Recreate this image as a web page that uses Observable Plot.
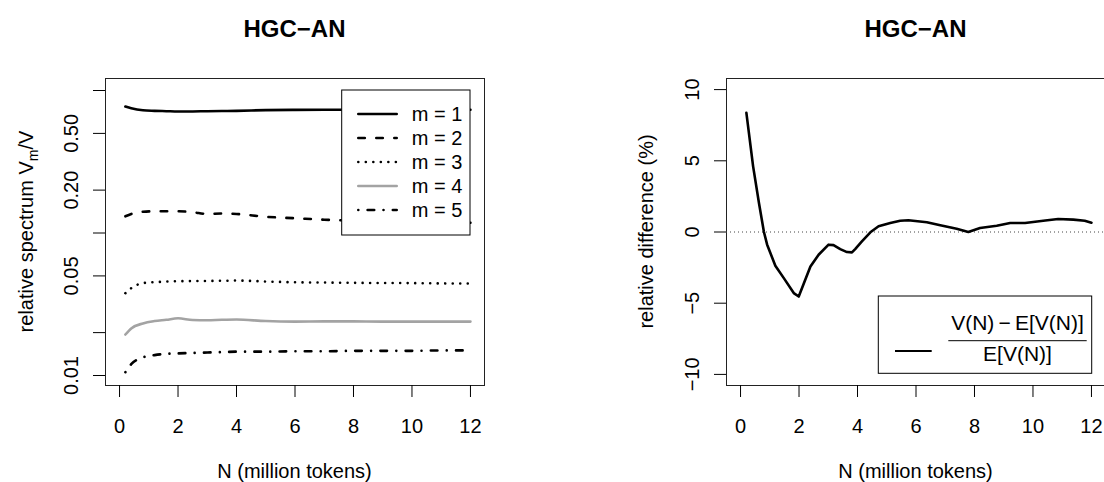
<!DOCTYPE html>
<html><head><meta charset="utf-8">
<script src="https://cdn.jsdelivr.net/npm/d3@7"></script>
<script src="https://cdn.jsdelivr.net/npm/@observablehq/plot@0.6"></script>
<style>
html,body{margin:0;padding:0;background:#fff;}
#wrap{display:flex;width:1104px;height:482px;overflow:hidden;background:#fff;}
#wrap svg{flex:none;}
</style></head><body><div id="wrap"></div>
<script>
// ---------- data ----------
const title = "HGC\u2212AN";
const xLabel = "N (million tokens)";
const xTicks = [0, 2, 4, 6, 8, 10, 12];

// left panel: relative spectrum V_m / V (log scale)
const specN = [0.2, 0.4, 0.8, 1.2, 1.6, 2.0, 2.5, 3.0, 3.5, 4.0, 5.0, 6.0, 7.0, 8.0, 9.0, 10.0, 11.0, 12.0];
const m1 = [0.772, 0.750, 0.726, 0.720, 0.716, 0.712, 0.713, 0.716, 0.718, 0.720, 0.728, 0.731, 0.732, 0.732, 0.732, 0.732, 0.732, 0.732];
const m2 = [0.131, 0.136, 0.141, 0.142, 0.142, 0.142, 0.140, 0.136, 0.137, 0.136, 0.130, 0.127, 0.124, 0.122, 0.121, 0.120, 0.119, 0.118];
const m3 = [0.0378, 0.0410, 0.0445, 0.0452, 0.0456, 0.0459, 0.0460, 0.0461, 0.0462, 0.0464, 0.0457, 0.0451, 0.0449, 0.0447, 0.0446, 0.0445, 0.0443, 0.0442];
const m4 = [0.0194, 0.0214, 0.0232, 0.0241, 0.0246, 0.0252, 0.0245, 0.0244, 0.0246, 0.0247, 0.0241, 0.0239, 0.0240, 0.0240, 0.0239, 0.0239, 0.0239, 0.0239];
const m5 = [0.01055, 0.0120, 0.0134, 0.0139, 0.0142, 0.0143, 0.0144, 0.0145, 0.0146, 0.0147, 0.0147, 0.0148, 0.0148, 0.0149, 0.0149, 0.0149, 0.0150, 0.0150];
const seriesNames = ["m = 1", "m = 2", "m = 3", "m = 4", "m = 5"];
const specTicks = [0.01, 0.02, 0.05, 0.1, 0.2, 0.5, 1];
const specTickLabels = ["0.01", "", "0.05", "", "0.20", "0.50", ""];
const specYLabel = ["relative spectrum V", "m", "/V"];

// right panel: relative difference (%)
const diffN = [0.2, 0.43, 0.63, 0.8, 0.91, 1.19, 1.48, 1.82, 1.99, 2.16, 2.39, 2.67, 3.01, 3.18, 3.41, 3.64, 3.81, 3.92, 4.15, 4.44, 4.72, 5.12, 5.46, 5.74, 6.37, 6.83, 7.39, 7.79, 8.19, 8.76, 9.22, 9.73, 10.35, 10.86, 11.38, 11.77, 12.0];
const diffVal = [8.37, 4.61, 2.04, 0, -0.89, -2.37, -3.24, -4.29, -4.53, -3.64, -2.42, -1.6, -0.89, -0.92, -1.2, -1.41, -1.43, -1.2, -0.66, -0.02, 0.4, 0.63, 0.79, 0.82, 0.68, 0.47, 0.23, 0, 0.28, 0.44, 0.63, 0.63, 0.79, 0.91, 0.87, 0.79, 0.65];
const diffTicks = [-10, -5, 0, 5, 10];
const diffTickLabels = ["\u221210", "\u22125", "0", "5", "10"];
const diffRef = [0];
const diffYLabel = "relative difference (%)";
const diffLegendNum = "V(N)\u2009\u2212\u2009E[V(N)]";
const diffLegendDen = "E[V(N)]";

// ---------- styles ----------
const FONT = '"Liberation Sans", Arial, Helvetica, sans-serif';
const lineStyles = [
  {stroke: "#000", dash: null},
  {stroke: "#000", dash: "6.5,11.5"},
  {stroke: "#000", dash: "0.01,7.5"},
  {stroke: "#a3a3a3", dash: null},
  {stroke: "#000", dash: "0.01,9.3,6.6,9.3"}
];
const LW = 2.6;
const W = 552, H = 482;
const mT = 78, mB = 97;
const frameW = 379;

const specSeries = [m1, m2, m3, m4, m5];
const specRows = seriesNames.map((name, i) => specN.map((n, j) => ({N: n, V: specSeries[i][j], m: name})));
const diffRows = diffN.map((n, j) => ({N: n, D: diffVal[j]}));

const wrap = document.getElementById("wrap");

// ---------- left plot ----------
const leftML = 105, leftMR = W - leftML - frameW;
const left = Plot.plot({
  width: W, height: H,
  marginLeft: leftML, marginRight: leftMR, marginTop: mT, marginBottom: mB,
  style: {fontFamily: FONT, fontSize: "20px", background: "white", color: "black"},
  x: {domain: [-0.48, 12.48]},
  y: {type: "log", domain: [0.00851, 1.214]},
  marks: [
    Plot.frame({stroke: "#222", strokeWidth: 1}),
    Plot.axisX({ticks: xTicks, tickSize: 12, tickPadding: 21, tickFormat: d => String(d), label: null}),
    Plot.axisY({ticks: specTicks, tickSize: 12, tickPadding: 16, tickRotate: -90,
      tickFormat: d => specTickLabels[specTicks.indexOf(d)], label: null}),
    ...specRows.map((rows, i) => Plot.line(rows, {
      x: "N", y: "V", stroke: lineStyles[i].stroke, strokeWidth: LW,
      strokeDasharray: lineStyles[i].dash, strokeLinecap: "round", strokeLinejoin: "round",
      curve: "monotone-x"
    }))
  ]
});
wrap.appendChild(left);

// ---------- right plot ----------
const rightML = 174, rightW = 554, rightMR = rightW - rightML - frameW;
const right = Plot.plot({
  width: rightW, height: H,
  marginLeft: rightML, marginRight: rightMR, marginTop: mT, marginBottom: mB,
  style: {fontFamily: FONT, fontSize: "20px", background: "white", color: "black"},
  x: {domain: [-0.48, 12.48]},
  y: {domain: [-10.78, 10.78]},
  marks: [
    Plot.frame({stroke: "#222", strokeWidth: 1}),
    Plot.ruleY(diffRef, {stroke: "#444", strokeWidth: 1, strokeDasharray: "1,3"}),
    Plot.axisX({ticks: xTicks, tickSize: 12, tickPadding: 21, tickFormat: d => String(d), label: null}),
    Plot.axisY({ticks: diffTicks, tickSize: 12, tickPadding: 16, tickRotate: -90,
      tickFormat: d => diffTickLabels[diffTicks.indexOf(d)], label: null}),
    Plot.line(diffRows, {x: "N", y: "D", stroke: "#000", strokeWidth: LW, strokeLinejoin: "round"})
  ]
});
wrap.appendChild(right);

// ---------- annotations (titles, axis titles, legends) ----------
function annotate(svg, ml) {
  const s = d3.select(svg);
  const cx = ml + frameW / 2, cy = mT + (H - mT - mB) / 2;
  s.append("text").attr("x", cx).attr("y", 37).attr("text-anchor", "middle")
    .attr("font-family", FONT).attr("font-size", 24).attr("font-weight", "bold").attr("fill", "#000").text(title);
  s.append("text").attr("x", cx).attr("y", 478).attr("text-anchor", "middle")
    .attr("font-family", FONT).attr("font-size", 20).attr("fill", "#000").text(xLabel);
  return {s, cx, cy};
}

{
  const {s, cy} = annotate(left, leftML);
  const t = s.append("text").attr("transform", `translate(${leftML - 79},${cy}) rotate(-90)`)
    .attr("text-anchor", "middle").attr("dy", "0.35em")
    .attr("font-family", FONT).attr("font-size", 20).attr("fill", "#000");
  t.append("tspan").text(specYLabel[0]);
  t.append("tspan").attr("font-size", 14).attr("dy", 5).text(specYLabel[1]);
  t.append("tspan").attr("dy", -5).text(specYLabel[2]);

  // legend
  const fr = leftML + frameW;
  const bx = fr - 142.3, by = mT + 12, bw = 128.3, bh = 145;
  s.append("rect").attr("x", bx).attr("y", by).attr("width", bw).attr("height", bh)
    .attr("fill", "white").attr("stroke", "#000").attr("stroke-width", 1);
  seriesNames.forEach((name, i) => {
    const y = by + 24 + 24 * i;
    s.append("line").attr("x1", bx + 16.6).attr("x2", bx + 55).attr("y1", y).attr("y2", y)
      .attr("stroke", lineStyles[i].stroke).attr("stroke-width", LW)
      .attr("stroke-dasharray", lineStyles[i].dash).attr("stroke-linecap", "round");
    s.append("text").attr("x", bx + 70).attr("y", y).attr("dy", "0.35em").attr("text-anchor", "start")
      .attr("font-family", FONT).attr("font-size", 20).attr("fill", "#000").text(name);
  });
}

{
  const {s, cy} = annotate(right, rightML);
  s.append("text").attr("transform", `translate(${rightML - 80},${cy}) rotate(-90)`)
    .attr("text-anchor", "middle").attr("dy", "0.35em")
    .attr("font-family", FONT).attr("font-size", 20).attr("fill", "#000").text(diffYLabel);
  // legend
  const bx = 326.3, by = 296, bw = 213.4, bh = 77.3;
  s.append("rect").attr("x", bx).attr("y", by).attr("width", bw).attr("height", bh)
    .attr("fill", "white").attr("stroke", "#000").attr("stroke-width", 1);
  s.append("line").attr("x1", bx + 16.7).attr("x2", bx + 53.4).attr("y1", by + 55).attr("y2", by + 55)
    .attr("stroke", "#000").attr("stroke-width", 1.8);
  s.append("line").attr("x1", bx + 70).attr("x2", bx + 208.4).attr("y1", by + 44.7).attr("y2", by + 44.7)
    .attr("stroke", "#000").attr("stroke-width", 1);
  s.append("text").attr("x", bx + 139.2).attr("y", by + 34).attr("text-anchor", "middle")
    .attr("font-family", FONT).attr("font-size", 21).attr("fill", "#000").text(diffLegendNum);
  s.append("text").attr("x", bx + 139.2).attr("y", by + 65).attr("text-anchor", "middle")
    .attr("font-family", FONT).attr("font-size", 21).attr("fill", "#000").text(diffLegendDen);
}
</script></body></html>
